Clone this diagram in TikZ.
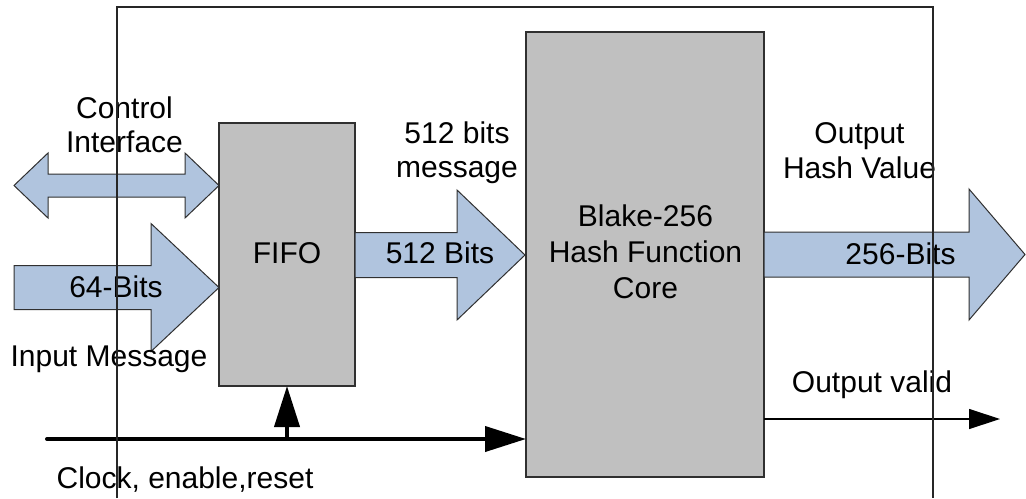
\documentclass[tikz,border=0pt]{standalone}
\usepackage{fontspec}
\setmainfont{Liberation Sans}
\usetikzlibrary{arrows.meta}
\definecolor{busfill}{HTML}{B0C4DE}
\definecolor{blockfill}{HTML}{C0C0C0}
\definecolor{edge}{HTML}{303030}
\tikzset{
  block/.style={draw=edge, fill=blockfill, line width=0.6pt},
  bus/.style={draw=edge, fill=busfill, line width=0.5pt},
  lbl/.style={inner sep=0pt, anchor=base, align=center,
              font=\fontsize{15}{17}\selectfont},
  frame/.style={draw=black!85, line width=0.6pt},
  ctrl/.style={line width=2pt, -{Triangle[length=20.5pt,width=12.5pt]}},
  thin/.style={line width=0.6pt, -{Triangle[length=15.5pt,width=10pt]}}
}
\begin{document}
\begin{tikzpicture}[x=0.5pt,y=-0.5pt]
\useasboundingbox (0,0) rectangle (1026,498);

% processing blocks
\draw[block] (219,123) rectangle (355,386);
\draw[block] (526,32) rectangle (764,477);
\coordinate (fifoS) at (287,386);
\coordinate (coreW) at (526,439);
\coordinate (coreE) at (764,419);

% control interface (bidirectional)
\draw[bus] (14,185.5) -- (48,153) -- (48,174) -- (185,174) -- (185,153)
  -- (219,185.5) -- (185,218) -- (185,197) -- (48,197) -- (48,218) -- cycle;
% 64-bit input bus
\draw[bus] (14,265.5) -- (151,265.5) -- (151,223.5) -- (219,287.5)
  -- (151,351.5) -- (151,309.5) -- (14,309.5) -- cycle;
% 512-bit message bus
\draw[bus] (355,232.5) -- (457,232.5) -- (457,190) -- (525,255)
  -- (457,320) -- (457,277.5) -- (355,277.5) -- cycle;
% 256-bit hash output bus
\draw[bus] (764,232) -- (969,232) -- (969,189) -- (1025,254.5)
  -- (969,320) -- (969,277) -- (764,277) -- cycle;

% clock / enable / reset distribution
\coordinate (clkIn) at (47,439);
\coordinate (tap) at (287,439);
\draw[ctrl, line cap=round] (clkIn) -- (coreW);
\draw[ctrl] (tap) -- (fifoS);

% output valid
\coordinate (validOut) at (1000,419);
\draw[thin] (coreE) -- (validOut);

% labels (multi-line labels are placed by their last baseline)
\node[lbl] (tCtrl) at (124.5,152) {Control\\Interface};
\node[lbl] (t64) at (116,297) {64-Bits};
\node[lbl] (tIn) at (109,366) {Input Message};
\node[lbl] (tFifo) at (287,263) {FIFO};
\node[lbl] (tMsg) at (457,177) {512 bits\\message};
\node[lbl] (t512) at (440,263) {512 Bits};
\node[lbl, font=\fontsize{15}{18}\selectfont] (tCore) at (645.5,298.5)
  {Blake-256\\Hash Function\\Core};
\node[lbl, font=\fontsize{15}{17.5}\selectfont] (tOut) at (859.5,178.5)
  {Output\\Hash Value};
\node[lbl] (t256) at (900.5,264) {256-Bits};
\node[lbl] (tValid) at (872,392) {Output valid};
\node[lbl] (tClk) at (185,488) {Clock, enable,reset};

% enclosing frame (open at the bottom)
\draw[frame] (117,498) -- (117,7) -- (933,7) -- (933,498);
\end{tikzpicture}
\end{document}
